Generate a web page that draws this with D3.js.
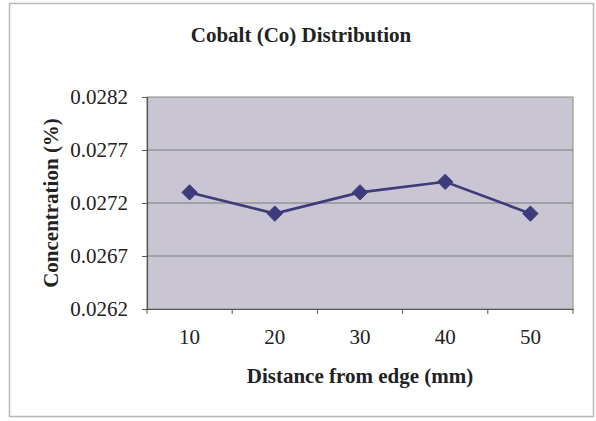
<!DOCTYPE html>
<html>
<head>
<meta charset="utf-8">
<script src="https://cdn.jsdelivr.net/npm/d3@7"></script>
<style>
  html, body { margin: 0; padding: 0; background: #ffffff; }
  svg { display: block; }
  text { font-family: "Liberation Serif", "Times New Roman", serif; fill: #222; }
</style>
</head>
<body>
<svg id="chart" width="596" height="421"></svg>
<script>
// Cobalt concentration measured at increasing distance from the edge
const distances = ["10", "20", "30", "40", "50"];
const concentration = [0.0273, 0.0271, 0.0273, 0.0274, 0.0271];
const yTicks = [0.0262, 0.0267, 0.0272, 0.0277, 0.0282];

const svg = d3.select("#chart");
const plot = { left: 147, top: 97, right: 573, bottom: 309 };

// outer chart frame
svg.append("rect")
  .attr("x", 9.5).attr("y", 3.5)
  .attr("width", 584).attr("height", 413)
  .attr("fill", "#ffffff")
  .attr("stroke", "#b8b8b8").attr("stroke-width", 1.5);

const x = d3.scaleBand().domain(distances).range([plot.left, plot.right]);
const y = d3.scaleLinear().domain([0.0262, 0.0282]).range([plot.bottom, plot.top]);

// plot area background
svg.append("rect")
  .attr("x", plot.left).attr("y", plot.top)
  .attr("width", plot.right - plot.left).attr("height", plot.bottom - plot.top)
  .attr("fill", "#c9c5d3")
  .attr("stroke", "#8a8a8a").attr("stroke-width", 1);

// horizontal gridlines
svg.append("g")
  .selectAll("line")
  .data(yTicks.slice(1, -1))
  .join("line")
  .attr("x1", plot.left).attr("x2", plot.right)
  .attr("y1", d => y(d)).attr("y2", d => y(d))
  .attr("stroke", "#7c7c7c").attr("stroke-width", 1.2);

// y axis
const yAxis = svg.append("g")
  .attr("transform", `translate(${plot.left},0)`)
  .call(d3.axisLeft(y).tickValues(yTicks).tickFormat(d3.format(".4f")).tickSize(5).tickPadding(14));
yAxis.select(".domain").attr("stroke", "#555").attr("stroke-width", 1.2);
yAxis.selectAll(".tick line").attr("stroke", "#555");
yAxis.selectAll("text").style("font-size", "21px").attr("fill", "#222");

// x axis: ticks sit on category boundaries
const xAxis = svg.append("g")
  .attr("transform", `translate(0,${plot.bottom})`)
  .call(d3.axisBottom(x).tickSize(0).tickPadding(20));
xAxis.select(".domain").attr("stroke", "#555").attr("stroke-width", 1.2);
xAxis.selectAll("text").style("font-size", "21px").attr("fill", "#222");
svg.append("g")
  .selectAll("line")
  .data(distances.map(d => x(d)).concat([x(distances[distances.length - 1]) + x.bandwidth()]))
  .join("line")
  .attr("x1", d => d).attr("x2", d => d)
  .attr("y1", plot.bottom).attr("y2", plot.bottom + 5)
  .attr("stroke", "#555");

// series line
const pts = distances.map((d, i) => [x(d) + x.bandwidth() / 2, y(concentration[i])]);
svg.append("path")
  .attr("d", d3.line()(pts))
  .attr("fill", "none")
  .attr("stroke", "#3e3b7c")
  .attr("stroke-width", 2.6);

// diamond markers
svg.append("g")
  .selectAll("path")
  .data(pts)
  .join("path")
  .attr("transform", d => `translate(${d[0]},${d[1]})`)
  .attr("d", d3.symbol(d3.symbolDiamond2, 150)())
  .attr("fill", "#3e3b7c")
  .attr("stroke", "#3e3b7c").attr("stroke-width", 1);

// titles
svg.append("text")
  .attr("x", 301).attr("y", 42)
  .attr("text-anchor", "middle")
  .style("font-size", "21px").style("font-weight", "bold")
  .text("Cobalt (Co) Distribution");

svg.append("text")
  .attr("x", (plot.left + plot.right) / 2).attr("y", 383)
  .attr("text-anchor", "middle")
  .style("font-size", "21px").style("font-weight", "bold")
  .text("Distance from edge (mm)");

svg.append("text")
  .attr("transform", `translate(58,${(plot.top + plot.bottom) / 2}) rotate(-90)`)
  .attr("text-anchor", "middle")
  .style("font-size", "21px").style("font-weight", "bold")
  .text("Concentration (%)");
</script>
</body>
</html>
